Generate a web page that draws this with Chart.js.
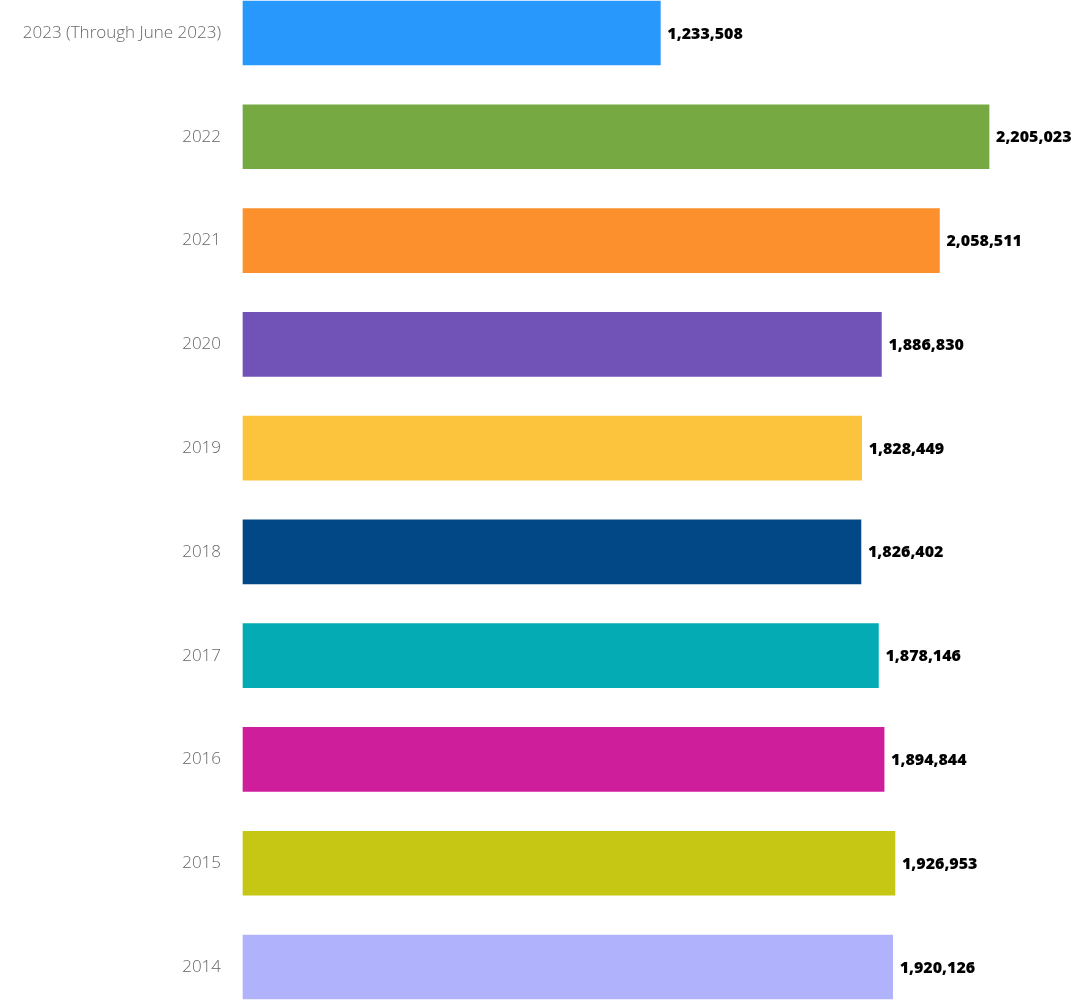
<!DOCTYPE html>
<html>
<head>
<meta charset="utf-8">
<script src="https://cdn.jsdelivr.net/npm/chart.js@4"></script>
<style>
html,body{margin:0;padding:0;background:#fff;}
#wrap{width:1079px;height:1003px;position:relative;}
</style>
</head>
<body>
<div id="wrap"><canvas id="c"></canvas></div>
<script>
const categories = ["2023 (Through June 2023)", "2022", "2021", "2020", "2019", "2018", "2017", "2016", "2015", "2014"];
const values = [1233508, 2205023, 2058511, 1886830, 1828449, 1826402, 1878146, 1894844, 1926953, 1920126];
const colors = ["#2998fc", "#77a943", "#fb902c", "#7152b7", "#fcc33c", "#034886", "#04abb5", "#cf1e9c", "#c6c614", "#b0b2fc"];
const axisMax = 2400000;

const valueLabels = {
  id: 'valueLabels',
  afterDatasetsDraw(chart) {
    const ctx = chart.ctx;
    const meta = chart.getDatasetMeta(0);
    ctx.save();
    ctx.font = "800 16px 'Open Sans', sans-serif";
    ctx.fillStyle = "#000";
    ctx.textAlign = "left";
    ctx.textBaseline = "middle";
    meta.data.forEach((bar, i) => {
      ctx.fillText(values[i].toLocaleString('en-US'), bar.x + 7, bar.y + 1);
    });
    ctx.restore();
  }
};

new Chart(document.getElementById('c'), {
  type: 'bar',
  data: {
    labels: categories,
    datasets: [{
      data: values,
      backgroundColor: colors,
      barThickness: 64,
      clip: false,
      borderWidth: 0
    }]
  },
  options: {
    indexAxis: 'y',
    responsive: true,
    maintainAspectRatio: false,
    animation: false,
    layout: { padding: { top: 33, bottom: 36, left: 0, right: 24 } },
    plugins: { legend: { display: false }, tooltip: { enabled: false } },
    scales: {
      x: { display: false, min: 0, max: axisMax },
      y: {
        offset: false,
        grid: { display: false, drawTicks: false },
        border: { display: false },
        ticks: {
          padding: 22,
          color: "#666",
          font: { family: "'Open Sans', sans-serif", size: 17, weight: 300 }
        },
        afterFit(scale) { scale.width = 243; }
      }
    }
  },
  plugins: [valueLabels]
});
</script>
</body>
</html>
